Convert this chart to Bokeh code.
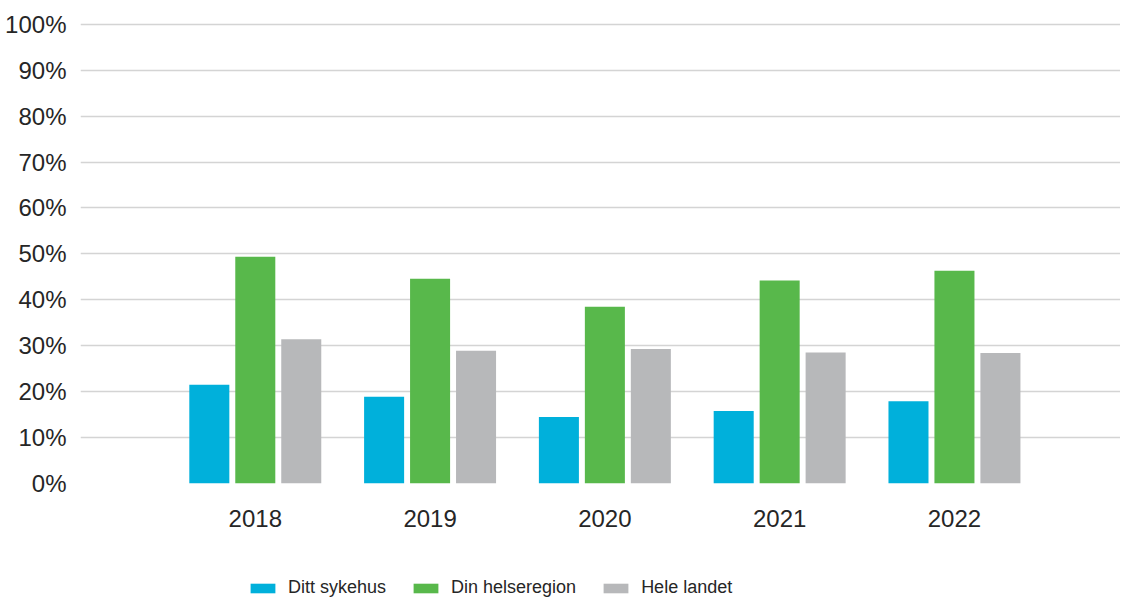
from bokeh.plotting import figure
from bokeh.layouts import column
from bokeh.models import ColumnDataSource, Range1d, Legend, LegendItem, FixedTicker
from bokeh.transform import dodge
from bokeh.embed import file_html
from bokeh.resources import INLINE

years = ["2018", "2019", "2020", "2021", "2022"]
sykehus = [21.5, 18.9, 14.5, 15.8, 17.9]
helseregion = [49.4, 44.6, 38.5, 44.2, 46.3]
landet = [31.4, 28.9, 29.3, 28.5, 28.4]
series_names = ["Ditt sykehus", "Din helseregion", "Hele landet"]
series_cols = ["sykehus", "helseregion", "landet"]
colors = ["#00b0db", "#58b84b", "#b7b8ba"]
y_ticks = list(range(0, 101, 10))

x_idx = [i + 1 for i in range(len(years))]
src = ColumnDataSource(dict(x=x_idx, sykehus=sykehus, helseregion=helseregion, landet=landet))

p = figure(width=1120, height=545, output_backend="svg", toolbar_location=None,
           x_range=Range1d(0, 5.95), y_range=Range1d(0, 100.6),
           min_border_left=80, min_border_right=0, min_border_top=21, min_border_bottom=62)
p.outline_line_color = None
p.background_fill_color = "white"
p.border_fill_color = "white"

bw = 0.229
off = 0.263
for col, c, o in zip(series_cols, colors, [-off, 0.0, off]):
    p.vbar(x=dodge("x", o), top=col, width=bw, source=src, fill_color=c, line_color=None)

p.xgrid.grid_line_color = None
p.ygrid.grid_line_color = "#d4d4d4"
p.ygrid.grid_line_width = 1.5
p.ygrid.ticker = FixedTicker(ticks=y_ticks)

p.yaxis.ticker = FixedTicker(ticks=y_ticks)
p.yaxis.major_label_overrides = {t: f"{t}%" for t in y_ticks}
p.yaxis.axis_line_color = None
p.yaxis.major_tick_line_color = None
p.yaxis.minor_tick_line_color = None
p.yaxis.major_label_standoff = 8
p.yaxis.major_label_text_font = "Liberation Sans"
p.yaxis.major_label_text_font_size = "24px"
p.yaxis.major_label_text_color = "#262626"

p.xaxis.ticker = FixedTicker(ticks=x_idx)
p.xaxis.major_label_overrides = {i: y for i, y in zip(x_idx, years)}
p.xaxis.axis_line_color = None
p.xaxis.major_tick_line_color = None
p.xaxis.minor_tick_line_color = None
p.xaxis.major_label_standoff = 20
p.xaxis.major_label_text_font = "Liberation Sans"
p.xaxis.major_label_text_font_size = "24px"
p.xaxis.major_label_text_color = "#262626"

# legend-only figure (its bars fall outside its visible range)
lg = figure(width=1120, height=55, output_backend="svg", toolbar_location=None,
            x_axis_type=None, y_axis_type=None, x_range=Range1d(-20, -19), y_range=Range1d(-20, -19),
            min_border_left=0, min_border_right=0, min_border_top=0, min_border_bottom=0)
lg.outline_line_color = None
lg.xgrid.grid_line_color = None
lg.ygrid.grid_line_color = None
items = []
for name, col, c in zip(series_names, series_cols, colors):
    r = lg.vbar(x="x", top=col, width=0.1, source=src, fill_color=c, line_color=None)
    items.append(LegendItem(label=name, renderers=[r]))

legend = Legend(items=items, orientation="horizontal", location=(167, 2),
                glyph_width=31, glyph_height=12, label_standoff=10, spacing=24,
                padding=0, margin=0, border_line_color=None, background_fill_alpha=0,
                label_text_font="Liberation Sans", label_text_font_size="18px",
                label_text_color="#262626", label_height=20)
lg.add_layout(legend, "center")

layout = column(p, lg, spacing=0)
open("out.html", "w").write(file_html(layout, INLINE))
